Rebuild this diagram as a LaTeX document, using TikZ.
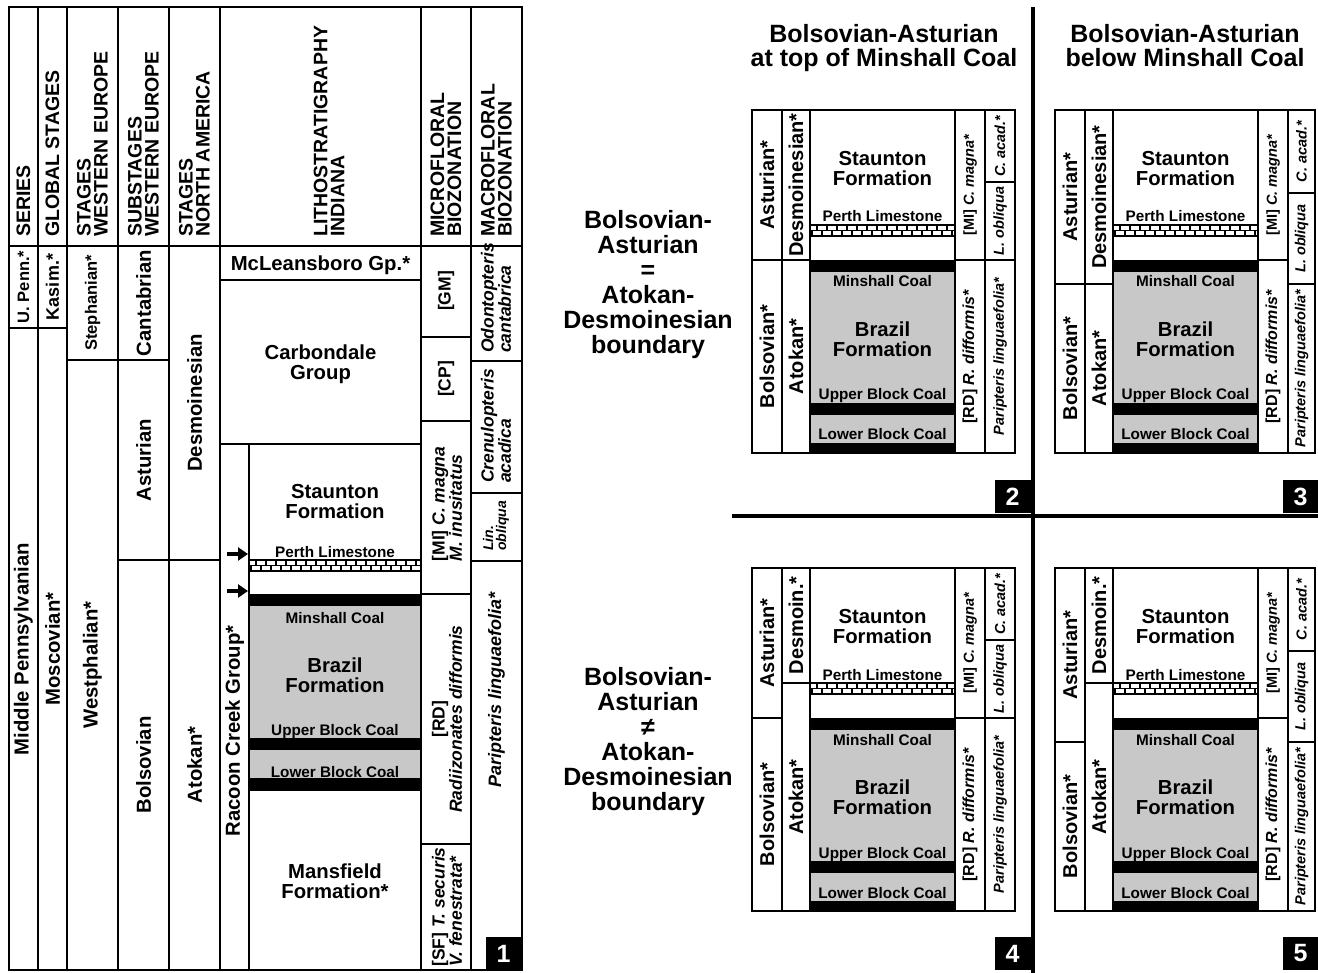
\documentclass[tikz,border=0pt]{standalone}
\usepackage{fontspec}
\setmainfont{Liberation Sans}
\usetikzlibrary{arrows.meta}
\definecolor{coalgray}{RGB}{200,200,200}
\newcommand\fsz[2]{\fontsize{#1}{#2}\selectfont\bfseries}
% limestone band: x1, x2, ytop, ybottom, number of bricks
\newcommand\lsband[5]{%
  \begin{scope}
    \clip (#1,#3) rectangle (#2,#4);
    \fill[white] (#1,#3) rectangle (#2,#4);
    \foreach \ii in {0,...,#5} {
      \draw[line width=1.2pt] ({#1+7+10*\ii},#3) -- ({#1+7+10*\ii},{(#3+#4)/2});
      \draw[line width=1.2pt] ({#1+2+10*\ii},{(#3+#4)/2}) -- ({#1+2+10*\ii},#4);
    }
  \end{scope}
  \draw[line width=1.6pt] (#1,#3) -- (#2,#3) (#1,#4) -- (#2,#4);
  \draw[line width=1.1pt] (#1,{(#3+#4)/2}) -- (#2,{(#3+#4)/2});
}
% small panel: x0, y0, width, Ast/Bol boundary, Des/Atok boundary, C.acad boundary, des label, name prefix
\newcommand\smallpanel[8]{%
\begin{scope}[shift={(#1,#2)}]
  \fill[coalgray] (58,162) rectangle (203,333);
  \fill[black] (58,150) rectangle (203,162);
  \fill[black] (58,293) rectangle (203,305);
  \fill[black] (58,333) rectangle (203,343);
  \lsband{58}{203}{115}{126}{15}
  \draw[tl] (0,0) rectangle (#3,343);
  \draw[tl] (30,0) -- (30,343) (58,0) -- (58,343) (203,0) -- (203,343) (233,0) -- (233,343);
  \draw[tl] (0,#4) -- (30,#4) (30,#5) -- (58,#5) (203,150) -- (233,150)
            (233,#6) -- (#3,#6) (233,#4) -- (#3,#4);
  \node[pvt] (#8ast) at (15,{#4/2}) {Asturian*};
  \node[pvt] (#8bol) at (15,{(#4+343)/2}) {Bolsovian*};
  \node[pvt] (#8des) at (44,{#5/2}) {#7};
  \node[pvt] (#8ato) at (44,{(#5+343)/2}) {Atokan*};
  \node[ht] (#8sta) at (130.5,58.5) {Staunton\\Formation};
  \node[st,anchor=base] (#8per) at (130.5,112) {Perth Limestone};
  \node[st,anchor=base] (#8min) at (130.5,177) {Minshall Coal};
  \node[ht] (#8bra) at (130.5,229.5) {Brazil\\Formation};
  \node[st,anchor=base] (#8ubc) at (130.5,290) {Upper Block Coal};
  \node[st,anchor=base] (#8lbc) at (130.5,330) {Lower Block Coal};
  \node[sbio] (#8mi) at (218,75) {[MI] \textit{C. magna*}};
  \node[sbio,font=\fsz{16}{16}] (#8rd) at (218,246.5) {[RD] \textit{R. difformis*}};
  \node[sbio] (#8ca) at ({(233+#3)/2},{#6/2}) {\textit{C. acad.*}};
  \node[sbio] (#8lo) at ({(233+#3)/2},{(#6+#4)/2}) {\textit{L. obliqua}};
  \node[sbio] (#8pl) at ({(233+#3)/2},{(#4+343)/2}) {\textit{Paripteris linguaefolia*}};
\end{scope}}
\begin{document}
\begin{tikzpicture}[x=1pt,y=-1pt,
  tl/.style={line width=2.3pt},
  hdr/.style={rotate=90,anchor=west,align=left,inner sep=0pt,font=\fsz{19.5}{17}},
  vt/.style={rotate=90,inner sep=0pt,font=\fsz{20.3}{20}},
  pvt/.style={rotate=90,inner sep=0pt,font=\fsz{20}{20}},
  ht/.style={inner sep=0pt,align=center,font=\fsz{20.3}{20}},
  st/.style={inner sep=0pt,font=\fsz{15.3}{15}},
  bio/.style={rotate=90,inner sep=0pt,align=left,font=\fsz{17.5}{16}},
  sbio/.style={rotate=90,inner sep=0pt,font=\fsz{14.5}{14}},
  numbox/.style={fill=black,text=white,minimum width=36pt,minimum height=33pt,inner sep=0pt,font=\fsz{25}{25}},
  ttl/.style={align=center,inner sep=0pt,font=\fsz{25}{24},anchor=north},
  mid/.style={align=center,inner sep=0pt,font=\fsz{25}{25},anchor=north},
  arr/.style={line width=4pt,-{Triangle[length=10pt,width=13pt]}},
  divider/.style={line width=4.5pt}
]
\useasboundingbox (0,0) rectangle (1318,973);
\fill[white] (0,0) rectangle (1318,973);

% ---------- Panel 1 ----------
\fill[coalgray] (249,606) rectangle (421,791);
\fill[black] (249,594) rectangle (421,606);
\fill[black] (249,738) rectangle (421,750);
\fill[black] (249,778) rectangle (421,791);
\lsband{249}{421}{560}{571}{18}

\draw[tl] (9,7) rectangle (522,970);
\draw[tl] (9,246) -- (522,246);
\foreach \xx in {38,67,118,169,220,421,471} {\draw[tl] (\xx,7) -- (\xx,970);}
\draw[tl] (9,328) -- (67,328) (67,360) -- (169,360) (118,560) -- (220,560)
  (220,280) -- (421,280) (220,444) -- (421,444) (249,444) -- (249,970)
  (421,337) -- (471,337) (421,421) -- (471,421) (421,594) -- (471,594) (421,844) -- (471,844)
  (471,361) -- (522,361) (471,493) -- (522,493) (471,561) -- (522,561);

% headers
\node[hdr] (h1) at (23.5,237) {SERIES};
\node[hdr] (h2) at (52.5,237) {GLOBAL STAGES};
\node[hdr] (h3) at (92.5,237) {STAGES\\WESTERN EUROPE};
\node[hdr] (h4) at (143.5,237) {SUBSTAGES\\WESTERN EUROPE};
\node[hdr] (h5) at (194.5,237) {STAGES\\NORTH AMERICA};
\node[hdr] (h6) at (329,237) {LITHOSTRATIGRAPHY\\INDIANA};
\node[hdr] (h7) at (446,237) {MICROFLORAL\\BIOZONATION};
\node[hdr] (h8) at (496.5,237) {MACROFLORAL\\BIOZONATION};

% chronostratigraphy
\node[vt,font=\fsz{16.5}{16}] (upenn) at (23.5,287) {U. Penn.*};
\node[vt,font=\fsz{18}{18}] (kasim) at (52.5,287) {Kasim.*};
\node[vt] (midp) at (23.5,649) {Middle Pennsylvanian};
\node[vt] (mosc) at (52.5,649) {Moscovian*};
\node[vt,font=\fsz{16.5}{16}] (steph) at (92.5,303) {Stephanian*};
\node[vt] (westph) at (92.5,665) {Westphalian*};
\node[vt] (cantab) at (143.5,303) {Cantabrian};
\node[vt] (astur) at (143.5,460) {Asturian};
\node[vt] (bolso) at (143.5,765) {Bolsovian};
\node[vt] (desmo) at (194.5,403) {Desmoinesian};
\node[vt] (atokan) at (194.5,765) {Atokan*};

% lithostratigraphy
\node[ht,anchor=base] (mclean) at (320.5,271) {McLeansboro Gp.*};
\node[ht] (carb) at (320.5,364) {Carbondale\\Group};
\node[vt] (racoon) at (234.5,731) {Racoon Creek Group*};
\node[ht] (staun) at (335,501.5) {Staunton\\Formation};
\node[st,anchor=base] (perth) at (335,557) {Perth Limestone};
\node[st,anchor=base] (minsh) at (335,623) {Minshall Coal};
\node[ht] (brazil) at (335,675.5) {Brazil\\Formation};
\node[st,anchor=base] (ubc) at (335,735) {Upper Block Coal};
\node[st,anchor=base] (lbc) at (335,777) {Lower Block Coal};
\node[ht] (mansf) at (335,881.5) {Mansfield\\Formation*};

\coordinate (a1s) at (227,554); \coordinate (a1e) at (248,554);
\coordinate (a2s) at (227,591); \coordinate (a2e) at (248,591);
\draw[arr] (a1s) -- (a1e);
\draw[arr] (a2s) -- (a2e);

% microflora
\node[bio] (gm) at (446,291) {[GM]};
\node[bio] (cp) at (446,379) {[CP]};
\node[bio] (mi) at (447,504) {[MI] \textit{C. magna}\\\textit{M. inusitatus}};
\node[bio,align=center] (rd) at (447,719) {[RD]\\\textit{Radiizonates difformis}};
\node[bio] (sf) at (447,907) {[SF] \textit{T. securis}\\\textit{V. fenestrata*}};

% macroflora
\node[bio] (odo) at (496,298) {\textit{Odontopteris}\\\textit{cantabrica}};
\node[bio] (cren) at (496,426) {\textit{Crenulopteris}\\\textit{acadica}};
\node[bio,font=\fsz{14}{13}] (lin) at (496,526) {\textit{Lin.}\\\textit{obliqua}};
\node[bio,font=\fsz{18}{18}] (pari) at (496.5,690) {\textit{Paripteris linguaefolia*}};

\node[numbox] (n1) at (503.5,953.5) {1};

% ---------- right side ----------
\node[ttl] (t2) at (884,24) {Bolsovian-Asturian\\at top of Minshall Coal};
\node[ttl] (t3) at (1185,24) {Bolsovian-Asturian\\below Minshall Coal};
\node[mid] (m1) at (648,210) {Bolsovian-\\Asturian\\=\\Atokan-\\Desmoinesian\\boundary};
\node[mid] (m2) at (648,667) {Bolsovian-\\Asturian\\≠\\Atokan-\\Desmoinesian\\boundary};

\smallpanel{752}{110}{263}{150}{150}{72}{Desmoinesian*}{pb}
\smallpanel{1055}{110}{260}{174}{174}{83}{Desmoinesian*}{pc}
\smallpanel{752}{568}{263}{150}{115}{72}{Desmoin.*}{pd}
\smallpanel{1055}{568}{260}{174}{115}{83}{Desmoin.*}{pe}

\coordinate (vtop) at (1033,7); \coordinate (vbot) at (1033,973);
\coordinate (hl) at (732,516); \coordinate (hr) at (1318,516);
\draw[divider] (vtop) -- (vbot);
\draw[divider] (hl) -- (hr);

\node[numbox] (n2) at (1012.5,496.5) {2};
\node[numbox] (n3) at (1300.5,496.5) {3};
\node[numbox] (n4) at (1012.5,953.5) {4};
\node[numbox] (n5) at (1300.5,953.5) {5};
\end{tikzpicture}
\end{document}
